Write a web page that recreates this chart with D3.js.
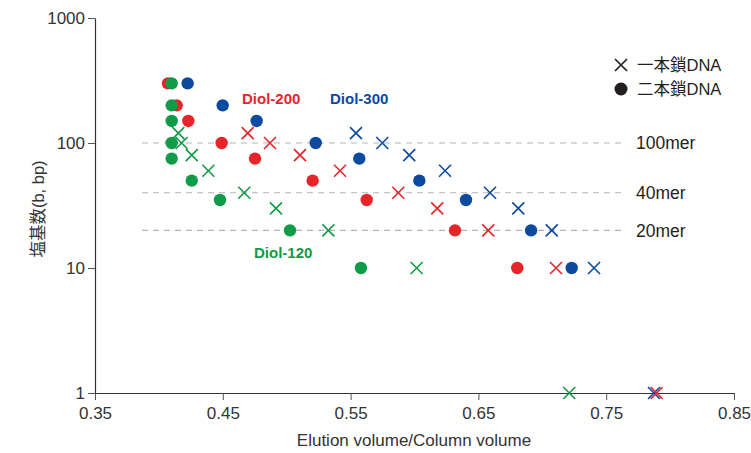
<!DOCTYPE html>
<html>
<head>
<meta charset="utf-8">
<script src="https://cdn.jsdelivr.net/npm/d3@7/dist/d3.min.js"></script>
<style>
  body { margin: 0; background: #fff; }
  text { font-family: "Liberation Sans", Arial, "Noto Sans CJK JP", sans-serif; fill: #333; }
</style>
</head>
<body>
<div id="chart-area"></div>
<script>
// data: [elution volume ratio, bases]
const green1 = [[0.4152, 120], [0.4178, 100], [0.4257, 80], [0.4387, 60], [0.4668, 40], [0.4916, 30], [0.5326, 20], [0.6017, 10], [0.7211, 1]];
const green2 = [[0.41, 300], [0.41, 200], [0.41, 150], [0.41, 100], [0.41, 75], [0.4257, 50], [0.4478, 35], [0.5026, 20], [0.5581, 10]];
const red1 = [[0.4695, 120], [0.4869, 100], [0.5104, 80], [0.5417, 60], [0.5873, 40], [0.6178, 30], [0.6577, 20], [0.7107, 10], [0.7895, 1]];
const red2 = [[0.4071, 300], [0.4139, 200], [0.423, 150], [0.4491, 100], [0.4752, 75], [0.5203, 50], [0.5626, 35], [0.6317, 20], [0.6804, 10]];
const blue1 = [[0.5542, 120], [0.5748, 100], [0.5959, 80], [0.6239, 60], [0.6591, 40], [0.6812, 30], [0.7074, 20], [0.7405, 10], [0.7874, 1]];
const blue2 = [[0.4225, 300], [0.4499, 200], [0.4765, 150], [0.5227, 100], [0.5568, 75], [0.6038, 50], [0.6403, 35], [0.6912, 20], [0.723, 10]];
const xTicks = [0.35, 0.45, 0.55, 0.65, 0.75, 0.85];
const yTicks = [1, 10, 100, 1000];
const merLines = [100, 40, 20];
const merLabels = ["100mer", "40mer", "20mer"];

const colors = { red: "#e8242b", blue: "#0b4a9e", green: "#0f9b48" };
const series = [
  { ss: blue1, ds: blue2, color: colors.blue },
  { ss: red1, ds: red2, color: colors.red },
  { ss: green1, ds: green2, color: colors.green }
];

const chartSize = { width: 751, height: 453 };
const margin = { left: 95, right: 17, top: 18, bottom: 60 };
const width = chartSize.width - margin.left - margin.right;
const height = chartSize.height - margin.top - margin.bottom;

const svg = d3.select("#chart-area")
  .append("svg")
  .attr("width", chartSize.width)
  .attr("height", chartSize.height);
const g = svg.append("g").attr("transform", `translate(${margin.left},${margin.top})`);

const x = d3.scaleLinear().domain([0.35, 0.85]).range([0, width]);
const y = d3.scaleLog().domain([1, 1000]).range([height, 0]);

// dashed guide lines
g.selectAll(".mer")
  .data(merLines)
  .join("line")
  .attr("x1", x(0.3868)).attr("x2", x(0.7647))
  .attr("y1", d => y(d)).attr("y2", d => y(d))
  .attr("stroke", "#b3b3b3").attr("stroke-width", 1.2)
  .attr("stroke-dasharray", "6,5");
g.selectAll(".merlabel")
  .data(merLabels)
  .join("text")
  .attr("x", x(0.7733))
  .attr("y", (d, i) => y(merLines[i]))
  .attr("dy", "0.36em")
  .attr("font-size", 17.5)
  .style("fill", "#231f20")
  .text(d => d);

// axes
const xAxis = d3.axisBottom(x).tickValues(xTicks).tickFormat(d3.format(".2f")).tickSize(7).tickSizeOuter(0);
const yAxis = d3.axisLeft(y).tickValues(yTicks).tickFormat(d3.format("d")).tickSize(7).tickSizeOuter(0);
g.append("g").attr("class", "x-axis").attr("transform", `translate(0,${height})`).call(xAxis);
g.append("g").attr("class", "y-axis").call(yAxis);
g.selectAll(".domain").attr("stroke", "#333").attr("stroke-width", 1.2);
g.selectAll(".tick line").attr("stroke", "#555").attr("stroke-width", 1);
g.selectAll(".tick text").attr("font-size", 17).style("fill", "#333");
g.selectAll(".x-axis .tick text").attr("dy", "0.95em");
g.selectAll(".y-axis .tick text").attr("x", -10);

// points
const cross = 6;
series.forEach(s => {
  const grp = g.append("g");
  grp.selectAll("circle")
    .data(s.ds)
    .join("circle")
    .attr("cx", d => x(d[0]))
    .attr("cy", d => y(d[1]))
    .attr("r", 6.2)
    .attr("fill", s.color);
  grp.selectAll("path")
    .data(s.ss)
    .join("path")
    .attr("d", d => {
      const cx = x(d[0]), cy = y(d[1]);
      return `M${cx - cross},${cy - cross}L${cx + cross},${cy + cross}M${cx - cross},${cy + cross}L${cx + cross},${cy - cross}`;
    })
    .attr("stroke", s.color)
    .attr("stroke-width", 1.6)
    .attr("fill", "none");
});

// series labels
const seriesLabels = [
  { text: "Diol-200", at: [0.465, 225], color: colors.red },
  { text: "Diol-300", at: [0.5339, 225], color: colors.blue },
  { text: "Diol-120", at: [0.4744, 13.2], color: colors.green }
];
g.selectAll(".slabel")
  .data(seriesLabels)
  .join("text")
  .attr("x", d => x(d.at[0]))
  .attr("y", d => y(d.at[1]))
  .attr("dy", "0.36em")
  .attr("font-size", 15)
  .attr("font-weight", "bold")
  .style("fill", d => d.color)
  .text(d => d.text);

// legend
const legendItems = ["一本鎖DNA", "二本鎖DNA"];
const legend = svg.append("g").attr("transform", "translate(621,65)");
legend.append("path")
  .attr("d", "M-6,-6L6,6M-6,6L6,-6")
  .attr("stroke", "#231f20").attr("stroke-width", 1.7);
legend.append("circle").attr("cx", 0).attr("cy", 24).attr("r", 6.5).attr("fill", "#231f20");
legend.selectAll("text")
  .data(legendItems)
  .join("text")
  .attr("x", 16)
  .attr("y", (d, i) => i * 24)
  .attr("dy", "0.36em")
  .attr("font-size", 16.5)
  .style("fill", "#231f20")
  .text(d => d);

// axis titles
svg.append("text")
  .attr("x", 414).attr("y", 440)
  .attr("dy", "0.36em")
  .attr("text-anchor", "middle")
  .attr("font-size", 17)
  .text("Elution volume/Column volume");
svg.append("text")
  .attr("transform", "translate(38,209) rotate(-90)")
  .attr("dy", "0.36em")
  .attr("text-anchor", "middle")
  .attr("font-size", 16.5)
  .text("塩基数(b, bp)");
</script>
</body>
</html>
